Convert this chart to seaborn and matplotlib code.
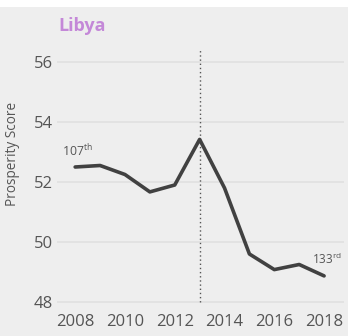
import matplotlib
matplotlib.use("Agg")
import matplotlib.pyplot as plt
import seaborn as sns
import pandas as pd
from matplotlib.patches import Rectangle

years = [2008, 2009, 2010, 2011, 2012, 2013, 2014, 2015, 2016, 2017, 2018]
scores = [52.50, 52.55, 52.25, 51.67, 51.90, 53.42, 51.80, 49.60, 49.08, 49.25, 48.87]
title = "Libya"
ylabel = "Prosperity Score"
yticks = [48, 50, 52, 54, 56]
xticks = [2008, 2010, 2012, 2014, 2016, 2018]
rank_start = ("107", "th")
rank_end = ("133", "rd")
marker_year = 2013

sns.set_theme(style="white")
plt.rcParams['font.family'] = ['Open Sans', 'DejaVu Sans']
plt.rcParams['mathtext.fontset'] = 'custom'
plt.rcParams['mathtext.rm'] = 'Open Sans'

bg = "#eeeeee"
fig = plt.figure(figsize=(3.48, 3.36), dpi=100, facecolor=bg)
fig.patches.append(Rectangle((0, 1 - 7/336), 1, 7/336, transform=fig.transFigure,
                             facecolor="white", edgecolor="none", zorder=0))
W, H = 348, 336
ax = fig.add_axes([57/W, 1 - 309.5/H, (344-57)/W, (309.5-44)/H])
ax.set_facecolor(bg)

df = pd.DataFrame({"year": years, "score": scores})
for y in yticks:
    ax.axhline(y, color="#e0e0e0", lw=1.2, zorder=0)
ax.plot([marker_year, marker_year], [48, 56.45], color="#555555", lw=1, ls=(0, (1, 2)), zorder=1)
sns.lineplot(data=df, x="year", y="score", ax=ax, color="#414141", lw=2.6, zorder=3)

ax.set_xlim(2007.27, 2018.8)
ax.set_ylim(47.75, 56.6)
ax.set_xticks(xticks)
ax.set_yticks(yticks)
ax.tick_params(axis="both", length=0, labelsize=12, labelcolor="#555555", pad=3)
ax.set_xlabel("")
ax.set_ylabel(ylabel, fontsize=9.8, color="#555555")
ax.yaxis.set_label_coords(-0.128, 0.586)
for s in ax.spines.values():
    s.set_visible(False)

ax.text(years[0] - 0.53, scores[0] + 0.25, rank_start[0] + r"$^{\mathrm{" + rank_start[1] + "}}$",
        fontsize=8.8, color="#555555", ha="left", va="bottom")
ax.text(years[-1] - 0.48, scores[-1] + 0.3, rank_end[0] + r"$^{\mathrm{" + rank_end[1] + "}}$",
        fontsize=8.5, color="#555555", ha="left", va="bottom")

fig.text(58/W, 1 - 26/H, title, fontsize=13, fontweight="bold", color="#c488d8",
         ha="left", va="center")

fig.savefig("out.png", dpi=100, facecolor=bg)
